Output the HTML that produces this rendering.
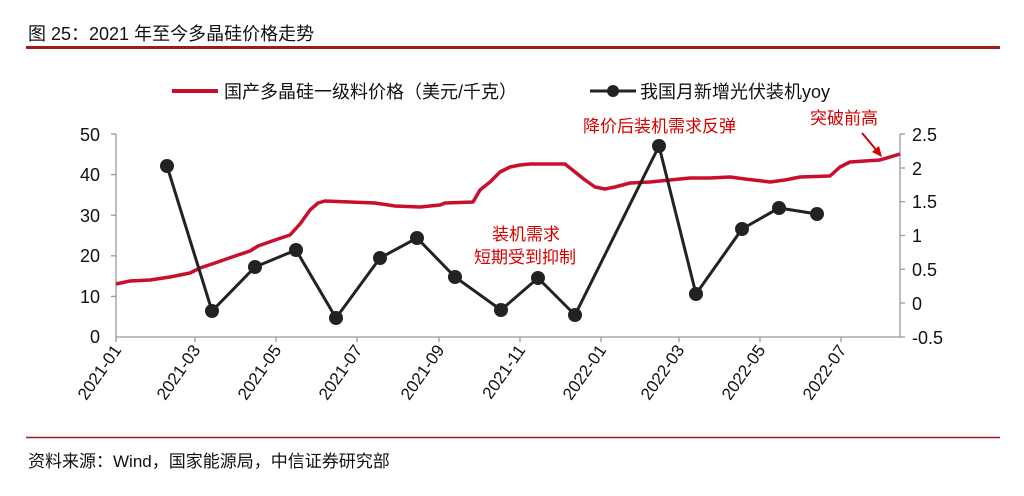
<!DOCTYPE html>
<html><head><meta charset="utf-8"><style>
body{margin:0;background:#fff;}
svg text{font-family:"Liberation Sans","Noto Sans CJK SC",sans-serif;}
</style></head><body>
<svg width="1024" height="491" xmlns="http://www.w3.org/2000/svg">
<text x="28" y="40" font-size="18" fill="#111">图 25：2021 年至今多晶硅价格走势</text>
<line x1="26" y1="47.5" x2="1000" y2="47.5" stroke="#9b1c1c" stroke-width="3"/>
<line x1="172" y1="91" x2="218" y2="91" stroke="#c8102e" stroke-width="4"/>
<text x="224" y="98" font-size="18" fill="#111">国产多晶硅一级料价格（美元/千克）</text>
<line x1="590" y1="91" x2="636" y2="91" stroke="#222" stroke-width="3"/>
<circle cx="613" cy="91" r="6" fill="#222"/>
<text x="640" y="98" font-size="18" fill="#111">我国月新增光伏装机yoy</text>
<!-- axes -->
<g stroke="#999" stroke-width="1.3" fill="none">
<line x1="116" y1="134" x2="116" y2="337"/>
<line x1="900" y1="134" x2="900" y2="337"/>
<line x1="116" y1="337" x2="900" y2="337"/>
</g>
<g stroke="#999" stroke-width="1.3">
<line x1="111" y1="134" x2="116" y2="134"/><line x1="111" y1="174.6" x2="116" y2="174.6"/><line x1="111" y1="215.2" x2="116" y2="215.2"/><line x1="111" y1="255.8" x2="116" y2="255.8"/><line x1="111" y1="296.4" x2="116" y2="296.4"/>
<line x1="900" y1="134" x2="905" y2="134"/><line x1="900" y1="168" x2="905" y2="168"/><line x1="900" y1="201.7" x2="905" y2="201.7"/><line x1="900" y1="235.5" x2="905" y2="235.5"/><line x1="900" y1="269.2" x2="905" y2="269.2"/><line x1="900" y1="303" x2="905" y2="303"/><line x1="900" y1="337" x2="905" y2="337"/>
<line x1="116" y1="337" x2="116" y2="342"/><line x1="195" y1="337" x2="195" y2="342"/><line x1="276" y1="337" x2="276" y2="342"/><line x1="357" y1="337" x2="357" y2="342"/><line x1="439" y1="337" x2="439" y2="342"/><line x1="520" y1="337" x2="520" y2="342"/><line x1="601" y1="337" x2="601" y2="342"/><line x1="679" y1="337" x2="679" y2="342"/><line x1="760" y1="337" x2="760" y2="342"/><line x1="841" y1="337" x2="841" y2="342"/>
</g>
<g font-size="18" fill="#111" text-anchor="end">
<text x="100" y="141">50</text><text x="100" y="181">40</text><text x="100" y="222">30</text><text x="100" y="262">20</text><text x="100" y="303">10</text><text x="100" y="343">0</text>
</g>
<g font-size="18" fill="#111">
<text x="912" y="141">2.5</text><text x="912" y="175">2</text><text x="912" y="208">1.5</text><text x="912" y="242">1</text><text x="912" y="276">0.5</text><text x="912" y="310">0</text><text x="912" y="344">-0.5</text>
</g>
<g font-size="17" fill="#111" text-anchor="end">
<text transform="translate(122,350) rotate(-55)">2021-01</text>
<text transform="translate(201,350) rotate(-55)">2021-03</text>
<text transform="translate(282,350) rotate(-55)">2021-05</text>
<text transform="translate(363,350) rotate(-55)">2021-07</text>
<text transform="translate(445,350) rotate(-55)">2021-09</text>
<text transform="translate(526,350) rotate(-55)">2021-11</text>
<text transform="translate(607,350) rotate(-55)">2022-01</text>
<text transform="translate(685,350) rotate(-55)">2022-03</text>
<text transform="translate(766,350) rotate(-55)">2022-05</text>
<text transform="translate(847,350) rotate(-55)">2022-07</text>
</g>
<polyline fill="none" stroke="#c8102e" stroke-width="3.5" stroke-linejoin="round" points="116,284 130,281 150,280 170,277 190,273 200,268 215,263 235,256 250,251 258,246 275,240 290,235 300,224 310,210 318,203 325,201 350,202 375,203 395,206 420,207 440,205 445,203 473,202 480,190 490,182 500,172 510,167 520,165 530,164 565,164 575,172 585,180 595,187 605,189 615,187 630,183 650,182 670,180 690,178 710,178 730,177 745,179 770,182 785,180 800,177 830,176 840,167 850,162 880,160 900,154"/>
<g fill="#222">
<polyline fill="none" stroke="#222" stroke-width="3" points="167,166 212,311 255,267 296,250 336,318 380,258 417,238 455,277 501,310 538,278 575,315 659,146 696,294 742,229 779,208 817,214"/>
<circle cx="167" cy="166" r="7"/><circle cx="212" cy="311" r="7"/><circle cx="255" cy="267" r="7"/><circle cx="296" cy="250" r="7"/><circle cx="336" cy="318" r="7"/><circle cx="380" cy="258" r="7"/><circle cx="417" cy="238" r="7"/><circle cx="455" cy="277" r="7"/><circle cx="501" cy="310" r="7"/><circle cx="538" cy="278" r="7"/><circle cx="575" cy="315" r="7"/><circle cx="659" cy="146" r="7"/><circle cx="696" cy="294" r="7"/><circle cx="742" cy="229" r="7"/><circle cx="779" cy="208" r="7"/><circle cx="817" cy="214" r="7"/>
</g>
<g font-size="17" fill="#d40000">
<text x="583" y="132">降价后装机需求反弹</text>
<text x="810" y="124">突破前高</text>
<text x="492" y="240">装机需求</text>
<text x="474" y="263">短期受到抑制</text>
</g>
<line x1="862" y1="133" x2="878" y2="152" stroke="#d40000" stroke-width="2"/>
<polygon points="882,157 872,152 879,146" fill="#d40000"/>
<line x1="26" y1="437.5" x2="1000" y2="437.5" stroke="#9b1c1c" stroke-width="1.5"/>
<text x="28" y="467" font-size="17" fill="#111">资料来源：Wind，国家能源局，中信证券研究部</text>
</svg>
</body></html>
